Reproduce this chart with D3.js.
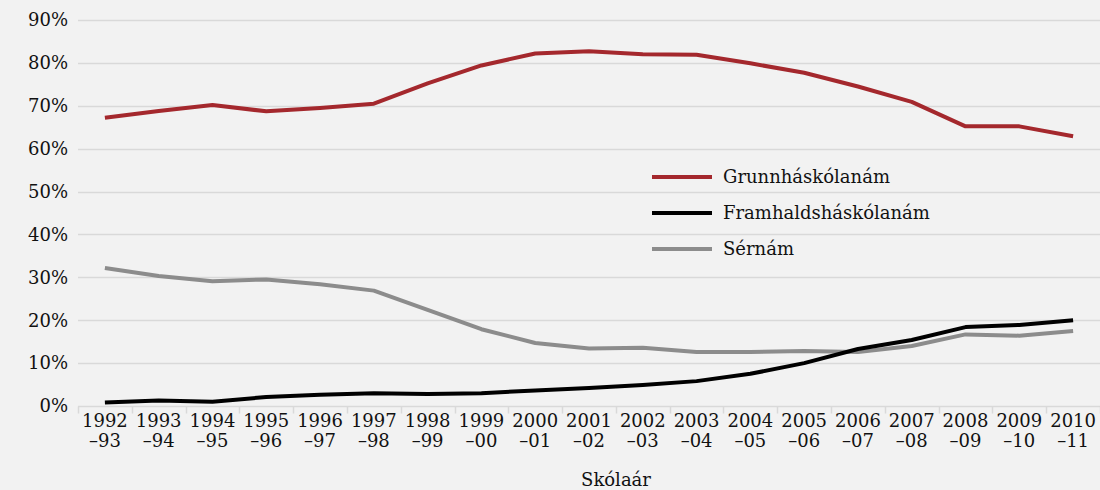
<!DOCTYPE html>
<html>
<head>
<meta charset="utf-8">
<script src="https://cdn.jsdelivr.net/npm/d3@7"></script>
<style>
  html, body { margin: 0; padding: 0; background: #f2f2f2; }
  svg { display: block; }
</style>
</head>
<body>
<svg id="chart" width="1100" height="490"></svg>
<script>
const years = ['1992', '1993', '1994', '1995', '1996', '1997', '1998', '1999', '2000', '2001',
  '2002', '2003', '2004', '2005', '2006', '2007', '2008', '2009', '2010']
const yearEnds = ['93', '94', '95', '96', '97', '98', '99', '00', '01', '02',
  '03', '04', '05', '06', '07', '08', '09', '10', '11']

const grunnnam = [67.2, 68.8, 70.2, 68.7, 69.5, 70.5, 75.2, 79.4, 82.2, 82.7,
  82.0, 81.9, 79.9, 77.7, 74.5, 70.9, 65.2, 65.2, 62.9]
const framhaldsnam = [0.8, 1.3, 1.0, 2.1, 2.6, 3.0, 2.8, 3.0, 3.6, 4.2,
  4.9, 5.8, 7.5, 10.0, 13.3, 15.4, 18.4, 18.9, 20.0]
const sernam = [32.2, 30.3, 29.1, 29.5, 28.4, 26.9, 22.4, 17.9, 14.7, 13.4,
  13.6, 12.6, 12.6, 12.8, 12.6, 14.0, 16.7, 16.4, 17.5]

const yTicks = [0, 10, 20, 30, 40, 50, 60, 70, 80, 90]
const seriesNames = ['Grunnháskólanám', 'Framhaldsháskólanám', 'Sérnám']

const FONT = '"DejaVu Serif", serif'
const COLORS = ['#a4282d', '#000000', '#8c8c8c']
const GRID = '#d9d9d9'

const margin = { top: 20, right: 0, bottom: 84, left: 78 }
const W = 1100, H = 490
const svg = d3.select('#chart')

const x = d3.scaleBand().domain(years).range([margin.left, W - margin.right])
const y = d3.scaleLinear().domain([0, 90]).range([H - margin.bottom, margin.top])

// horizontal gridlines
svg.append('g')
  .selectAll('line')
  .data(yTicks.filter(d => d > 0))
  .join('line')
  .attr('x1', margin.left)
  .attr('x2', W - margin.right)
  .attr('y1', d => Math.round(y(d)) + 0.5)
  .attr('y2', d => Math.round(y(d)) + 0.5)
  .attr('stroke', GRID)
  .attr('stroke-width', 1.5)

// y axis labels
svg.append('g')
  .selectAll('text')
  .data(yTicks)
  .join('text')
  .attr('x', 68)
  .attr('y', d => y(d))
  .attr('dy', '0.35em')
  .attr('text-anchor', 'end')
  .attr('font-family', FONT)
  .attr('font-size', 18)
  .attr('fill', '#111')
  .text(d => `${d}%`)

// x axis line + ticks at band boundaries
const y0 = Math.round(y(0)) + 0.5
const xAxisG = svg.append('g')
xAxisG.append('line')
  .attr('x1', margin.left)
  .attr('x2', W - margin.right)
  .attr('y1', y0)
  .attr('y2', y0)
  .attr('stroke', GRID)
  .attr('stroke-width', 1.5)

const bounds = years.map(d => x(d)).concat([x(years[years.length - 1]) + x.bandwidth()])
xAxisG.selectAll('line.tick')
  .data(bounds)
  .join('line')
  .attr('class', 'tick')
  .attr('x1', d => Math.round(d) + 0.5)
  .attr('x2', d => Math.round(d) + 0.5)
  .attr('y1', y0)
  .attr('y2', y0 + 7)
  .attr('stroke', GRID)
  .attr('stroke-width', 1.5)

const labelG = xAxisG.selectAll('text.xl')
  .data(years)
  .join('text')
  .attr('class', 'xl')
  .attr('text-anchor', 'middle')
  .attr('font-family', FONT)
  .attr('font-size', 18)
  .attr('fill', '#111')

labelG.append('tspan')
  .attr('x', d => x(d) + x.bandwidth() / 2)
  .attr('y', y0 + 20)
  .text(d => d)
labelG.append('tspan')
  .attr('x', d => x(d) + x.bandwidth() / 2)
  .attr('y', y0 + 40)
  .text((d, i) => `–${yearEnds[i]}`)

// axis title
svg.append('text')
  .attr('x', 616)
  .attr('y', 486)
  .attr('text-anchor', 'middle')
  .attr('font-family', FONT)
  .attr('font-size', 18)
  .attr('fill', '#111')
  .text('Skólaár')

// series lines
const line = d3.line()
  .x((d, i) => x(years[i]) + x.bandwidth() / 2)
  .y(d => y(d))

const allSeries = [grunnnam, framhaldsnam, sernam]
// grey first, then red, then black on top
const drawOrder = [2, 0, 1]
svg.append('g')
  .selectAll('path')
  .data(drawOrder)
  .join('path')
  .attr('d', i => line(allSeries[i]))
  .attr('fill', 'none')
  .attr('stroke', i => COLORS[i])
  .attr('stroke-width', 4)
  .attr('stroke-linejoin', 'round')

// legend
const legend = svg.append('g')
  .selectAll('g')
  .data(seriesNames)
  .join('g')
  .attr('transform', (d, i) => `translate(652, ${177 + i * 36})`)

legend.append('line')
  .attr('x1', 0)
  .attr('x2', 60)
  .attr('stroke', (d, i) => COLORS[i])
  .attr('stroke-width', 4)

legend.append('text')
  .attr('x', 71)
  .attr('dy', '0.35em')
  .attr('font-family', FONT)
  .attr('font-size', 18)
  .attr('fill', '#111')
  .text(d => d)
</script>
</body>
</html>
